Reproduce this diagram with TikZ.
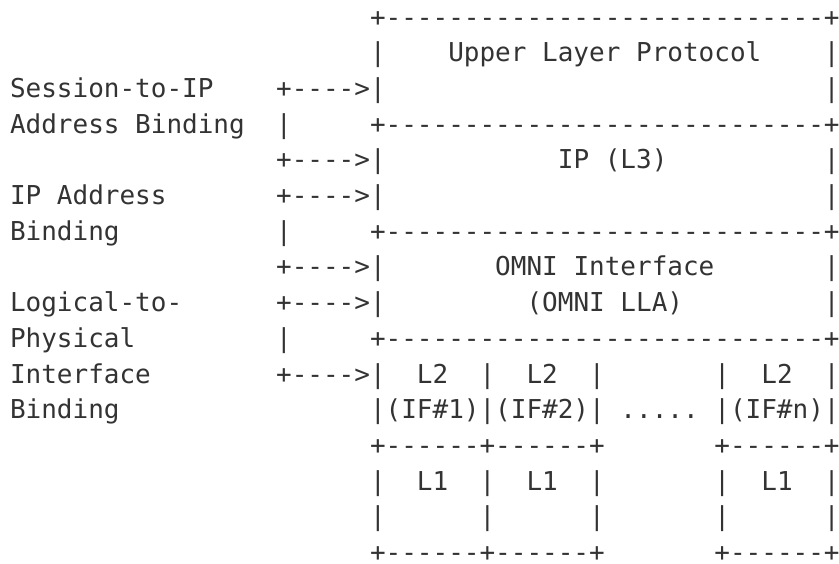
\documentclass[tikz,border=0pt]{standalone}
\usepackage{fontspec}
\setmonofont{DejaVu Sans Mono}
\definecolor{ink}{HTML}{333333}
\ExplSyntaxOn
\cs_new:Npn \repchar #1#2 { \prg_replicate:nn {#1} {#2} }
\ExplSyntaxOff
\begin{document}
\begin{tikzpicture}[x=15.653pt, y=-35.7pt,
  asc/.style={anchor=base west, inner sep=0pt, outer sep=0pt,
    font=\ttfamily\fontsize{26}{26}\selectfont\frenchspacing, text=ink}]
\fill[white] (-10pt,26pt) rectangle (829pt,-537pt);
\useasboundingbox (-10pt,26pt) rectangle (829pt,-537pt);
% left labels
\node[asc] (lab1) at (0,2) {Session-to-IP};
\node[asc] (lab2) at (0,3) {Address~Binding};
\node[asc] (lab3) at (0,5) {IP~Address};
\node[asc] (lab4) at (0,6) {Binding};
\node[asc] (lab5) at (0,8) {Logical-to-};
\node[asc] (lab6) at (0,9) {Physical};
\node[asc] (lab7) at (0,10) {Interface};
\node[asc] (lab8) at (0,11) {Binding};
% diagram lines
\node[asc] (r0) at (23,0) {+\repchar{28}{-}+};
\node[asc] (r1) at (23,1) {|\repchar{4}{~}Upper~Layer~Protocol\repchar{4}{~}|};
\node[asc] (r2) at (17,2) {+---->|\repchar{28}{~}|};
\node[asc] (r3) at (17,3) {|\repchar{5}{~}+\repchar{28}{-}+};
\node[asc] (r4) at (17,4) {+---->|\repchar{11}{~}IP~(L3)\repchar{10}{~}|};
\node[asc] (r5) at (17,5) {+---->|\repchar{28}{~}|};
\node[asc] (r6) at (17,6) {|\repchar{5}{~}+\repchar{28}{-}+};
\node[asc] (r7) at (17,7) {+---->|\repchar{7}{~}OMNI~Interface\repchar{7}{~}|};
\node[asc] (r8) at (17,8) {+---->|\repchar{9}{~}(OMNI~LLA)\repchar{9}{~}|};
\node[asc] (r9) at (17,9) {|\repchar{5}{~}+\repchar{28}{-}+};
\node[asc] (r10) at (17,10) {+---->|~~L2~~|~~L2~~|\repchar{7}{~}|~~L2~~|};
\node[asc] (r11) at (23,11) {|(IF\#1)|(IF\#2)|~.....~|(IF\#n)|};
\node[asc] (r12) at (23,12) {+------+------+\repchar{7}{~}+------+};
\node[asc] (r13) at (23,13) {|~~L1~~|~~L1~~|\repchar{7}{~}|~~L1~~|};
\node[asc] (r14) at (23,14) {|\repchar{6}{~}|\repchar{6}{~}|\repchar{7}{~}|\repchar{6}{~}|};
\node[asc] (r15) at (23,15) {+------+------+\repchar{7}{~}+------+};
\end{tikzpicture}
\end{document}
